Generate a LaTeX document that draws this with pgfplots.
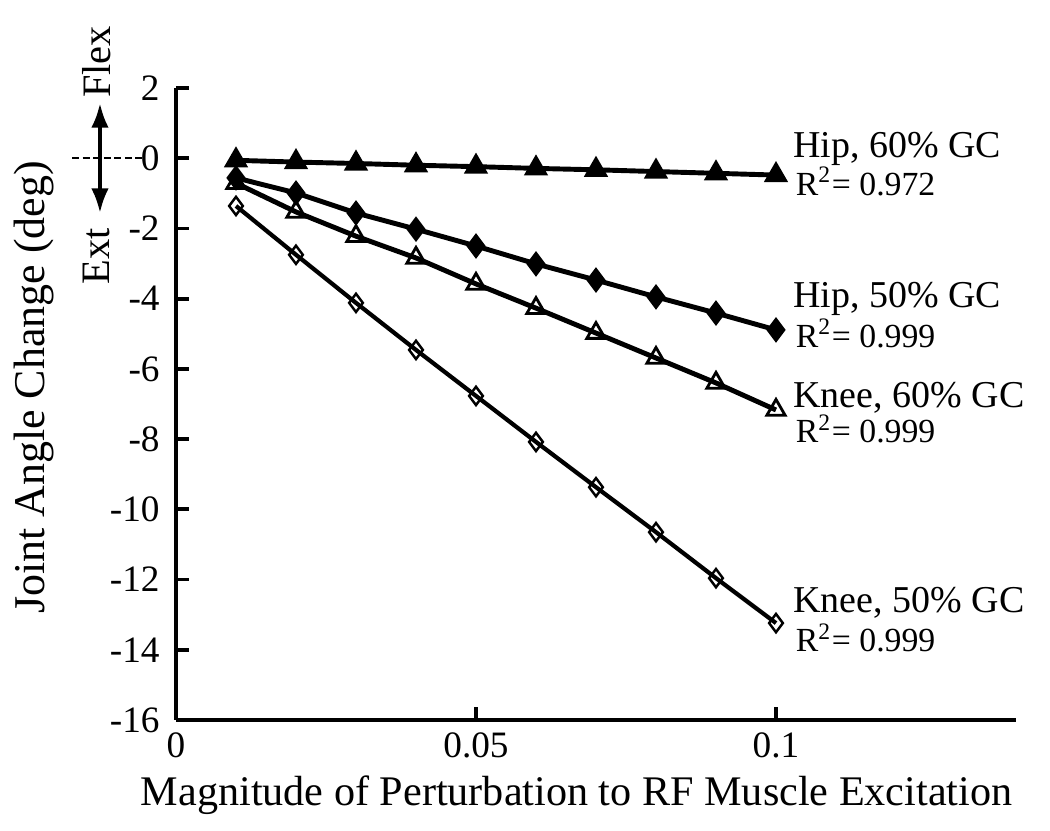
\documentclass[border=0pt]{standalone}
\usepackage{fontspec}
\setmainfont{Liberation Serif}
\usepackage{pgfplots}
\pgfplotsset{compat=1.18}
\usetikzlibrary{arrows.meta}

\pgfplotstableread{
x y
0.01 -0.06
0.02 -0.11
0.03 -0.15
0.04 -0.20
0.05 -0.24
0.06 -0.29
0.07 -0.33
0.08 -0.38
0.09 -0.43
0.10 -0.48
}\hipsixty
\pgfplotstableread{
x y
0.01 -0.56
0.02 -0.99
0.03 -1.56
0.04 -2.02
0.05 -2.50
0.06 -3.01
0.07 -3.47
0.08 -3.95
0.09 -4.41
0.10 -4.89
}\hipfifty
\pgfplotstableread{
x y
0.01 -0.71
0.02 -1.53
0.03 -2.22
0.04 -2.84
0.05 -3.58
0.06 -4.27
0.07 -4.98
0.08 -5.69
0.09 -6.40
0.10 -7.17
}\kneesixty
\pgfplotstableread{
x y
0.01 -1.36
0.02 -2.75
0.03 -4.12
0.04 -5.46
0.05 -6.77
0.06 -8.08
0.07 -9.37
0.08 -10.65
0.09 -11.96
0.10 -13.24
}\kneefifty

\begin{document}
\begin{tikzpicture}
\useasboundingbox (-1.76,-1.11) rectangle (8.74,7.20);
\begin{axis}[
  at={(0,0)}, anchor=south west,
  scale only axis,
  width=8.4cm, height=6.32cm,
  xmin=0, xmax=0.14, ymin=-16, ymax=2,
  axis lines=left,
  axis line style={-, line width=1.1pt},
  tick align=inside,
  major tick length=0.13cm,
  tick style={line width=1.1pt, black},
  xtick={0,0.05,0.1},
  xticklabels={0,0.05,0.1},
  ytick={-16,-14,...,2},
  yticklabels={-16,-14,-12,-10,-8,-6,-4,-2,0,2},
  ticklabel style={font=\fontsize{10.6pt}{12pt}\selectfont},
  yticklabel style={xshift=-0.04cm},
  xlabel={Magnitude of Perturbation to RF Muscle Excitation},
  ylabel={Joint Angle Change (deg)},
  xlabel style={font=\fontsize{12pt}{14pt}\selectfont, at={(axis description cs:0.477,-0.1345)}, anchor=base},
  ylabel style={font=\fontsize{12.5pt}{14pt}\selectfont, at={(axis description cs:-0.156,0.526)}, anchor=base},
  clip=false,
]
\addplot[black, line width=1.4pt, mark=triangle*, mark size=3.2pt, mark options={line width=0.8pt}] table {\hipsixty};
\addplot[black, line width=1.4pt, mark=diamond*, mark size=3pt, mark options={line width=0.8pt}] table {\hipfifty};
\addplot[black, line width=1.4pt, mark=triangle, mark size=3pt, mark options={fill=white, line width=0.8pt}] table {\kneesixty};
\addplot[black, line width=1.2pt, mark=diamond, mark size=2.6pt, mark options={fill=white, line width=0.7pt}] table {\kneefifty};

\begin{scope}[font=\fontsize{10.8pt}{13pt}\selectfont]
\node[anchor=base west, inner sep=0pt] at (axis cs:0.1028,0.03) {Hip, 60\% GC};
\node[anchor=base west, inner sep=0pt] at (axis cs:0.1028,-4.24) {Hip, 50\% GC};
\node[anchor=base west, inner sep=0pt] at (axis cs:0.1028,-7.11) {Knee, 60\% GC};
\node[anchor=base west, inner sep=0pt] at (axis cs:0.1028,-12.95) {Knee, 50\% GC};
\end{scope}
\begin{scope}[font=\fontsize{9.6pt}{12pt}\selectfont]
\node[anchor=base west, inner sep=0pt] at (axis cs:0.1032,-1.05) {R\textsuperscript{2}= 0.972};
\node[anchor=base west, inner sep=0pt] at (axis cs:0.1032,-5.38) {R\textsuperscript{2}= 0.999};
\node[anchor=base west, inner sep=0pt] at (axis cs:0.1032,-8.11) {R\textsuperscript{2}= 0.999};
\node[anchor=base west, inner sep=0pt] at (axis cs:0.1032,-14.06) {R\textsuperscript{2}= 0.999};
\end{scope}

\draw[black, dashed, line width=0.5pt, dash pattern=on 2pt off 1pt] (axis cs:-0.0173,0) -- (axis cs:-0.0057,0);
\draw[black, line width=1.1pt, {Latex[length=7pt,width=5pt]}-{Latex[length=7pt,width=5pt]}] (axis cs:-0.01267,1.57) -- (axis cs:-0.01267,-1.56);
\node[rotate=90, font=\fontsize{11.5pt}{13pt}\selectfont, inner sep=0pt] at (axis cs:-0.0133,2.74) {Flex};
\node[rotate=90, font=\fontsize{11.5pt}{13pt}\selectfont, inner sep=0pt] at (axis cs:-0.0133,-2.79) {Ext};
\end{axis}
\end{tikzpicture}
\end{document}
